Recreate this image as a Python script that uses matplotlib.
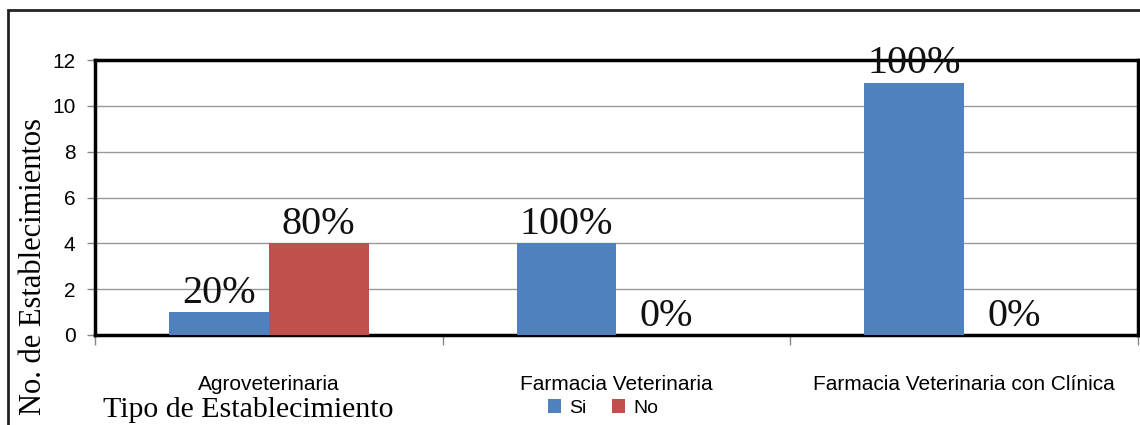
import matplotlib.pyplot as plt
from matplotlib.patches import Rectangle
import numpy as np

categorias = ["Agroveterinaria", "Farmacia Veterinaria", "Farmacia Veterinaria con Clínica"]
si = [1, 4, 11]
no = [4, 0, 0]
etiquetas_si = ["20%", "100%", "100%"]
etiquetas_no = ["80%", "0%", "0%"]

azul = "#4F81BD"
rojo = "#C0504D"

fig = plt.figure(figsize=(11.4, 4.25), dpi=100)
fig.patch.set_facecolor("white")
# marco exterior del grafico (recortado a la derecha y abajo)
fig.patches.append(Rectangle((8/1140, -0.1), 1.2, 1 - 10/425 + 0.1, transform=fig.transFigure,
                             fill=False, edgecolor="#222222", linewidth=2))

ax = fig.add_axes([95/1140, 1 - 335/425, 1043/1140, 275/425])
x = np.arange(len(categorias))
w = 0.287
b1 = ax.bar(x - w/2, si, w, color=azul, label="Si", zorder=3)
b2 = ax.bar(x + w/2, no, w, color=rojo, label="No", zorder=3)

for barras, etiq in [(b1, etiquetas_si), (b2, etiquetas_no)]:
    for b, t in zip(barras, etiq):
        ax.text(b.get_x() + b.get_width()/2, b.get_height() + 0.02, t, ha="center", va="bottom",
                fontsize=29, family="Liberation Serif", color="#111111", zorder=4)

ax.set_xlim(-0.5, 2.5)
ax.set_ylim(0, 12)
ax.set_yticks(range(0, 13, 2))
ax.yaxis.grid(True, color="#999999", linewidth=1, zorder=0)
ax.tick_params(axis="y", labelsize=15, length=6, width=1, pad=8, color="#888888")
for lab in ax.get_yticklabels():
    lab.set_family("Liberation Sans")

ax.set_xticks(x)
ax.set_xticklabels(categorias, fontsize=15, family="Liberation Sans")
ax.tick_params(axis="x", which="major", length=0, pad=29)
ax.set_xticks([-0.5, 0.5, 1.5, 2.5], minor=True)
ax.tick_params(axis="x", which="minor", length=7, width=1, color="#888888")

for s in ax.spines.values():
    s.set_linewidth(2.5)
    s.set_color("black")

ax.set_ylabel("No. de Establecimientos", fontsize=22, family="Liberation Serif")
ax.yaxis.set_label_coords(-0.045, 0.25)

fig.text(103/1140, 1 - 410/425, "Tipo de Establecimiento", fontsize=21.5, family="Liberation Serif",
         va="center", ha="left")

fig.legend(handles=[b1, b2], loc="center", bbox_to_anchor=(603/1140, 1 - 408/425), ncol=2,
           frameon=False, handlelength=0.7, handleheight=0.7, handletextpad=0.4,
           columnspacing=1.3, prop={"family": "Liberation Sans", "size": 14})

fig.savefig("out.png", dpi=100)
